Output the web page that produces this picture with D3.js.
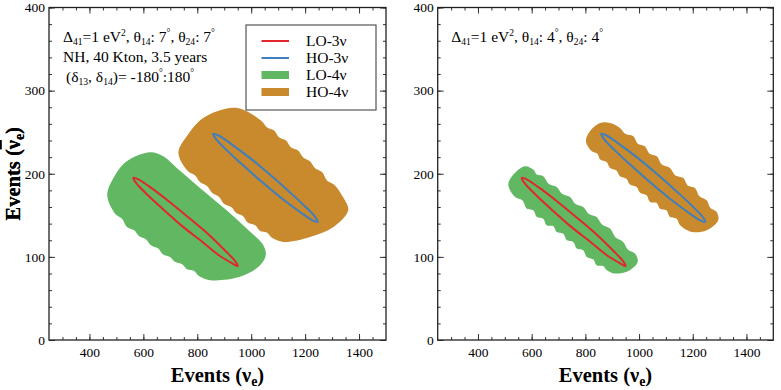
<!DOCTYPE html>
<html>
<head>
<meta charset="utf-8">
<title>Events nu_e vs anti-nu_e : 3nu vs 4nu</title>
<script src="https://d3js.org/d3.v7.min.js"></script>
<style>
  body { margin: 0; background: #fff; }
  svg text { font-family: "Liberation Serif", "DejaVu Serif", serif; fill: #000; }
</style>
</head>
<body>
<svg id="chart" width="781" height="390"></svg>
<script>
// ---- values (event counts) ----
var xTicks = [400, 600, 800, 1000, 1200, 1400];
var yTicks = [0, 100, 200, 300, 400];
var xDomain = [250, 1500];
var yDomain = [0, 400];

var seriesNames = ["LO-3ν", "HO-3ν", "LO-4ν", "HO-4ν"];

// 3-flavour contours, identical in both panels
var lo3nu = [[950,89],[940,95],[902,108],[842,127],[769,147],[694,167],[629,183],[583,193],
             [563,195],[573,189],[611,176],[671,158],[744,137],[819,118],[884,101],[931,92]];
var ho3nu = [[1247,142],[1237,148],[1199,161],[1139,179],[1066,200],[991,220],[925,236],[879,246],
             [859,248],[869,242],[907,229],[967,211],[1040,190],[1115,170],[1181,154],[1227,144]];

// 4-flavour regions, left panel (theta14 = theta24 = 7 deg); scalloped edges kept as bumps
var lo4nuA = [[625,226],[538,215],[489,195],[466,174],
              [495,152],[521,146],[539,136],[566,132],[584,125],[610,121],[628,114],[655,110],
              [673,103],[699,100],[717,94],[744,91],[762,85],[788,83],[806,77],
              [847,72],[958,76],[1033,90],[1054,102],[1045,114],[983,134],
              [909,156],[810,183],[724,207],[674,221]];
var ho4nuA = [[921,279],[822,267],[761,245],[730,225],
              [766,203],[792,198],[810,190],[837,185],[855,177],[881,172],[899,164],[926,160],
              [944,153],[970,149],[988,141],[1015,138],[1033,131],[1059,129],[1077,123],
              [1119,118],[1218,124],[1305,136],[1360,156],[1342,171],
              [1307,187],[1281,192],[1263,202],[1236,207],[1218,215],[1192,220],[1174,228],
              [1147,232],[1129,240],[1103,244],[1085,252],[1058,256],[1040,263],
              [971,277]];

// 4-flavour regions, right panel (theta14 = theta24 = 4 deg)
var lo4nuB = [[575,209],[532,199],[513,187],
              [538,172],[565,168],[582,158],[606,156],[619,148],[643,146],[656,138],[680,137],
              [693,130],[717,128],[731,120],[755,118],[768,110],[792,108],[805,100],[829,97],
              [842,90],[866,89],[880,84],[910,80],[966,84],[995,94],
              [985,104],[958,109],[941,118],[911,124],[892,134],[862,139],[842,148],[812,152],
              [792,160],[762,164],[743,172],[713,176],[693,184],[663,188],[643,197],[619,199],[606,205]];
var ho4nuB = [[855,261],[817,251],[802,239],
              [824,227],[845,224],[855,217],[879,214],[892,207],[916,204],[929,197],[953,194],
              [966,187],[991,184],[1004,177],[1028,174],[1041,166],[1065,165],[1078,158],
              [1102,156],[1115,148],[1140,146],[1153,138],[1196,130],[1252,132],
              [1295,144],[1289,154],[1265,159],[1252,168],[1225,173],[1208,183],[1181,186],
              [1165,195],[1135,198],[1115,207],[1085,211],[1066,221],[1039,224],[1022,233],
              [995,236],[979,245],[948,248],[929,255],[892,261]];

var colors = { lo3: "#e3262b", ho3: "#3f7fbf", lo4: "#62b862", ho4: "#c88a2c" };

var svg = d3.select("#chart");

function panel(left, top, w, h, regions) {
  var g = svg.append("g").attr("transform", "translate(" + left + "," + top + ")");
  var x = d3.scaleLinear().domain(xDomain).range([0, w]);
  var y = d3.scaleLinear().domain(yDomain).range([h, 0]);
  var line = d3.line().x(function(d){ return x(d[0]); }).y(function(d){ return y(d[1]); })
               .curve(d3.curveCatmullRomClosed.alpha(0.5));

  g.append("path").attr("d", line(regions.lo4)).attr("fill", colors.lo4);
  g.append("path").attr("d", line(regions.ho4)).attr("fill", colors.ho4);
  g.append("path").attr("d", line(lo3nu)).attr("fill", "none").attr("stroke", colors.lo3).attr("stroke-width", 2);
  g.append("path").attr("d", line(ho3nu)).attr("fill", "none").attr("stroke", colors.ho3).attr("stroke-width", 2);

  var xMinor = d3.range(300, 1500, 50), yMinor = d3.range(0, 401, 20);

  // minor ticks on all four sides
  g.append("g").attr("transform", "translate(0," + h + ")")
    .call(d3.axisBottom(x).tickValues(xMinor).tickSize(-3).tickFormat(""));
  g.append("g").call(d3.axisTop(x).tickValues(xMinor).tickSize(-3).tickFormat(""));
  g.append("g").call(d3.axisLeft(y).tickValues(yMinor).tickSize(-3).tickFormat(""));
  g.append("g").attr("transform", "translate(" + w + ",0)")
    .call(d3.axisRight(y).tickValues(yMinor).tickSize(-3).tickFormat(""));

  // major ticks
  g.append("g").attr("class", "lab").attr("transform", "translate(0," + h + ")")
    .call(d3.axisBottom(x).tickValues(xTicks).tickSize(-6).tickPadding(7).tickFormat(d3.format("d")));
  g.append("g").call(d3.axisTop(x).tickValues(xTicks).tickSize(-6).tickFormat(""));
  g.append("g").attr("class", "lab")
    .call(d3.axisLeft(y).tickValues(yTicks).tickSize(-6).tickPadding(4).tickFormat(d3.format("d")));
  g.append("g").attr("transform", "translate(" + w + ",0)")
    .call(d3.axisRight(y).tickValues(yTicks).tickSize(-6).tickFormat(""));

  g.selectAll(".domain").remove();
  g.selectAll(".tick line").attr("stroke", "#333");
  g.selectAll(".lab text").attr("font-size", 13.5).attr("font-family", "Liberation Serif");

  g.append("rect").attr("width", w).attr("height", h)
    .attr("fill", "none").attr("stroke", "#222").attr("stroke-width", 1.3);

  // axis titles
  var xl = g.append("text").attr("x", w / 2).attr("y", h + 42)
    .attr("text-anchor", "middle").attr("font-size", 20.5).attr("font-weight", "bold");
  xl.append("tspan").text("Events (ν");
  xl.append("tspan").attr("font-size", 14).attr("dy", 4).text("e");
  xl.append("tspan").attr("dy", -4).text(")");

  var yl = g.append("text")
    .attr("transform", "translate(" + (-left + 19.5) + "," + (h / 2) + ") rotate(-90)")
    .attr("text-anchor", "middle").attr("font-size", 20.5).attr("font-weight", "bold");
  yl.append("tspan").text("Events (");
  yl.append("tspan").attr("text-decoration", "overline").text("ν");
  yl.append("tspan").attr("font-size", 14).attr("dy", 4).text("e");
  yl.append("tspan").attr("dy", -4).text(")");
  return g;
}

// text line with sub/superscripts: parts = [text, kind] where kind is "", "sub", "sup"
function rich(g, px, py, size, parts) {
  var t = g.append("text").attr("x", px).attr("y", py).attr("font-size", size);
  var shift = 0;
  parts.forEach(function(p) {
    var s = t.append("tspan").text(p[0]);
    var target = p[1] === "sub" ? 3 : p[1] === "sup" ? -6 : 0;
    if (target !== shift) { s.attr("dy", target - shift); shift = target; }
    if (p[1]) s.attr("font-size", size * 0.62);
  });
  return t;
}

var gA = panel(49, 7.5, 337, 332.5, { lo4: lo4nuA, ho4: ho4nuA });
var gB = panel(437.7, 7.5, 335.6, 332.5, { lo4: lo4nuB, ho4: ho4nuB });

rich(gA, 14, 34, 15.5, [["Δ",""],["41","sub"],["=1 eV",""],["2","sup"],[", θ",""],["14","sub"],[": 7",""],
  ["°","sup"],[", θ",""],["24","sub"],[": 7",""],["°","sup"]]);
rich(gA, 14, 54, 15.5, [["NH, 40 Kton, 3.5 years",""]]);
rich(gA, 17, 74, 15.5, [["(δ",""],["13","sub"],[", δ",""],["14","sub"],[")= -180",""],["°","sup"],[":180",""],["°","sup"]]);

rich(gB, 13.5, 34, 15.5, [["Δ",""],["41","sub"],["=1 eV",""],["2","sup"],[", θ",""],["14","sub"],[": 4",""],
  ["°","sup"],[", θ",""],["24","sub"],[": 4",""],["°","sup"]]);

// legend
var leg = gA.append("g").attr("transform", "translate(197,17.5)");
leg.append("rect").attr("width", 130).attr("height", 85)
  .attr("fill", "#fff").attr("stroke", "#555").attr("stroke-width", 1.2);
var legColors = [colors.lo3, colors.ho3, colors.lo4, colors.ho4];
seriesNames.forEach(function(name, i) {
  var cy = 16 + i * 17;
  if (i < 2) {
    leg.append("line").attr("x1", 15.5).attr("x2", 43).attr("y1", cy).attr("y2", cy)
      .attr("stroke", legColors[i]).attr("stroke-width", 2);
  } else {
    leg.append("rect").attr("x", 15.5).attr("y", cy - 4).attr("width", 27.5).attr("height", 8)
      .attr("fill", legColors[i]);
  }
  leg.append("text").attr("x", 60).attr("y", cy + 5).attr("font-size", 15.5).text(name);
});
</script>
</body>
</html>
